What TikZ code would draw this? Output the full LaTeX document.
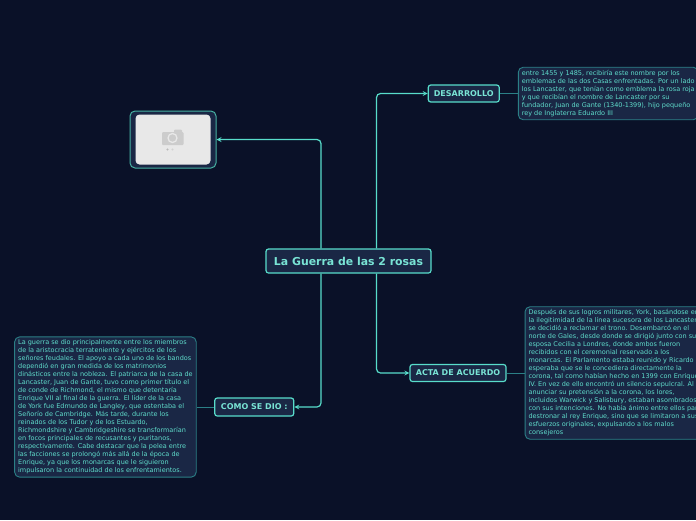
\documentclass[tikz,border=0pt]{standalone}
\usepackage{fontspec}
\setmainfont{DejaVu Sans}
\usepackage{tikz}
\usetikzlibrary{shapes,arrows,positioning}
\definecolor{bgdark}{HTML}{0A1128}
\definecolor{boxfill}{HTML}{1A2745}
\definecolor{teal}{HTML}{58DDCB}
\definecolor{tealdim}{HTML}{2B7F86}
\definecolor{notetext}{HTML}{5FDCCB}

\begin{document}
\begin{tikzpicture}[
    x=1pt, y=-1pt,
    node distance=18pt,
    topic/.style={draw=teal, fill=boxfill, text=teal!80!white, line width=1.2pt, rounded corners=2.5pt, inner sep=0pt, align=center},
    note/.style={draw=tealdim, fill=boxfill, text=notetext, line width=0.9pt, rounded corners=5pt, inner xsep=3.5pt, inner ysep=3pt, align=left, font=\fontsize{6.5}{8}\selectfont},
    arrow/.style={draw=teal, line width=1.2pt, rounded corners=4pt, ->, >=stealth},
    link/.style={draw=tealdim, line width=1pt}
]
    \useasboundingbox [fill=bgdark] (0,0) rectangle (696,520);

    \node (root) [topic, minimum width=165pt, minimum height=24pt, font=\fontsize{10.9}{12}\selectfont\bfseries] at (348.5,261) {La Guerra de las 2 rosas};
    \node (desarrollo) [topic, minimum width=71pt, minimum height=17pt, font=\fontsize{8}{9}\selectfont\bfseries] at (463.75,93.5) {DESARROLLO};
    \node (acta) [topic, minimum width=96pt, minimum height=17pt, font=\fontsize{8}{9}\selectfont\bfseries] at (458,373) {ACTA DE ACUERDO};
    \node (como) [topic, minimum width=79pt, minimum height=18pt, font=\fontsize{8}{9}\selectfont\bfseries] at (254.25,407) {COMO SE DIO :};

    \node (image) [draw=teal!80!black, fill=boxfill, line width=1pt, rounded corners=5pt, minimum width=86pt, minimum height=57pt, inner sep=0pt] at (173,139.5) {};
    \node (photo) [fill=gray!18, rounded corners=4pt, minimum width=75pt, minimum height=50pt, inner sep=0pt] at (image) {};
    \fill [gray!40, rounded corners=1pt] (162,132) rectangle (183.5,145) (174,129.5) rectangle (182,133);
    \draw [gray!18, line width=1.3pt] (172.5,138) circle (4.5);
    \fill [gray!55] (167.5,149.5) circle (1.2);
    \fill [gray!35] (172.5,149.5) circle (1.2);

    \node (desarrollonote) [note, right=of desarrollo] {entre 1455  y 1485, recibiría este nombre por los\\
emblemas de las dos Casas enfrentadas. Por un lado\\
los Lancaster, que tenían como emblema la rosa roja\\
y que recibían el nombre de Lancaster por  su\\
fundador, Juan de Gante (1340-1399), hijo pequeño\\
rey de Inglaterra Eduardo III};
    \node (actanote) [note, right=of acta] {Después de sus logros militares, York, basándose en\\
la ilegitimidad de la línea sucesora de los Lancaster,\\
se decidió a reclamar el trono. Desembarcó en el\\
norte de Gales, desde donde se dirigió junto con su\\
esposa Cecilia a Londres, donde ambos fueron\\
recibidos con el ceremonial reservado a los\\
monarcas. El Parlamento estaba reunido y Ricardo\\
esperaba que se le concediera directamente la\\
corona, tal como habían hecho en 1399 con Enrique\\
IV. En vez de ello encontró un silencio sepulcral. Al\\
anunciar su pretensión a la corona, los lores,\\
incluidos Warwick y Salisbury, estaban asombrados\\
con sus intenciones. No había ánimo entre ellos para\\
destronar al rey Enrique, sino que se limitaron a sus\\
esfuerzos originales, expulsando a los malos\\
consejeros};
    \node (comonote) [note, left=17.5pt of como] {La guerra se dio principalmente entre los miembros\\
de la aristocracia terrateniente y ejércitos de los\\
señores feudales. El apoyo a cada uno de los bandos\\
dependió en gran medida de los matrimonios\\
dinásticos entre la nobleza. El patriarca de la casa de\\
Lancaster, Juan de Gante, tuvo como primer título el\\
de conde de Richmond, el mismo que detentaría\\
Enrique VII al final de la guerra. El líder de la casa\\
de York fue Edmundo de Langley, que ostentaba el\\
Señorío de Cambridge. Más tarde, durante los\\
reinados de los Tudor y de los Estuardo,\\
Richmondshire y Cambridgeshire se transformarían\\
en focos principales de recusantes y puritanos,\\
respectivamente. Cabe destacar que la pelea entre\\
las facciones se prolongó más allá de la época de\\
Enrique, ya que los monarcas que le siguieron\\
impulsaron la continuidad de los enfrentamientos.};

    \draw [arrow] ([xshift=28pt]root.north) |- (desarrollo);
    \draw [arrow] ([xshift=28pt]root.south) |- (acta);
    \draw [arrow] ([xshift=-27.5pt]root.north) |- (image);
    \draw [arrow] ([xshift=-27.5pt]root.south) |- (como);
    \draw [link] (desarrollo) -- (desarrollonote);
    \draw [link] (acta) -- (actanote);
    \draw [link] (como) -- (comonote);
\end{tikzpicture}
\end{document}
